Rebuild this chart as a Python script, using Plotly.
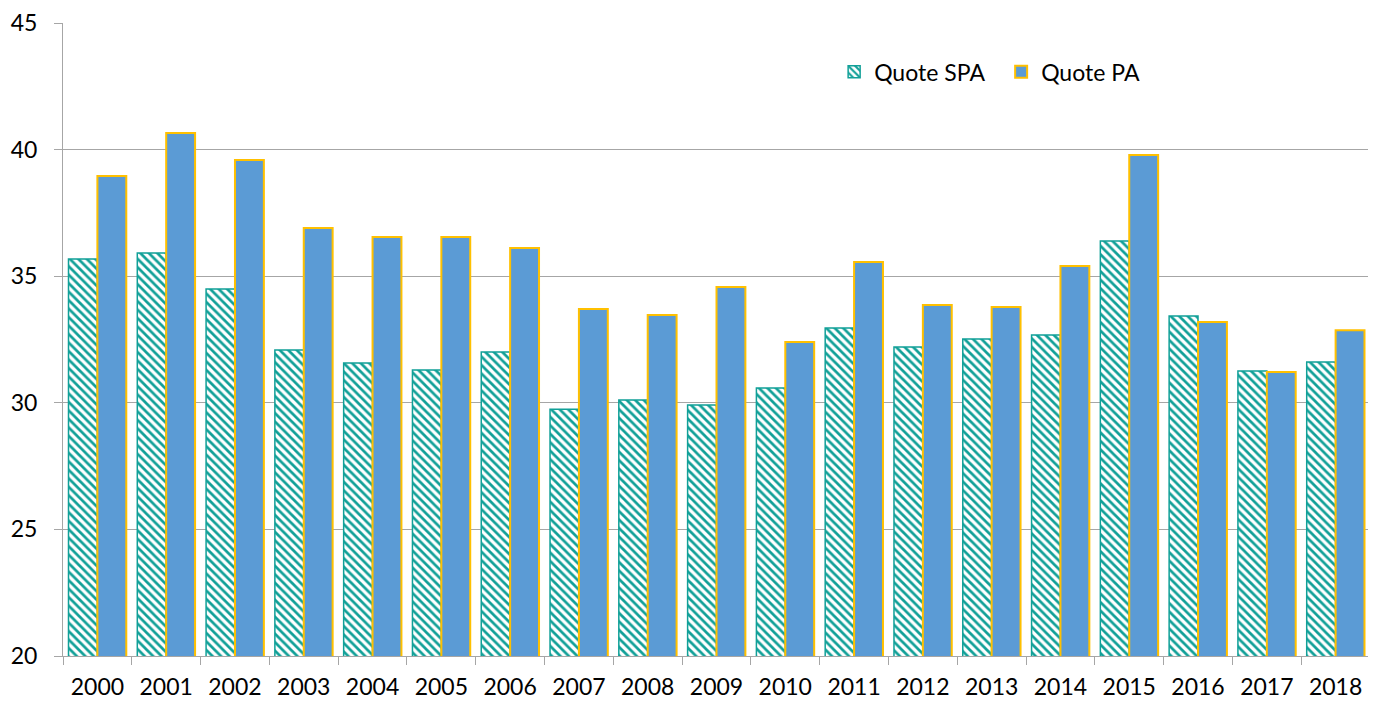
import plotly.graph_objects as go

years = [str(y) for y in range(2000, 2019)]
quote_spa = [35.68, 35.92, 34.49, 32.09, 31.57, 31.30, 32.01, 29.75, 30.11, 29.91,
             30.58, 32.95, 32.20, 32.52, 32.68, 36.39, 33.43, 31.26, 31.61]
quote_pa = [38.96, 40.66, 39.59, 36.90, 36.55, 36.55, 36.11, 33.70, 33.47, 34.57,
            32.40, 35.56, 33.86, 33.78, 35.40, 39.79, 33.19, 31.22, 32.87]

TEAL = "#11A098"
BLUE = "#5B9BD5"
GOLD = "#FFC000"
FONT = "Lato, Open Sans, sans-serif"

fig = go.Figure()
fig.add_trace(go.Bar(
    x=years, y=quote_spa, name="Quote SPA",
    marker=dict(color="white", line=dict(color=TEAL, width=1.5),
                pattern=dict(shape="\\", fgcolor=TEAL, bgcolor="white",
                             size=6, solidity=0.45, fillmode="replace")),
))
fig.add_trace(go.Bar(
    x=years, y=quote_pa, name="Quote PA",
    marker=dict(color=BLUE, line=dict(color=GOLD, width=2)),
))

fig.update_layout(
    width=1376, height=702,
    margin=dict(l=55, r=14, t=15, b=54),
    paper_bgcolor="white", plot_bgcolor="white",
    barmode="group", bargap=0.16, bargroupgap=0,
    font=dict(family=FONT, size=23, color="black"),
    legend=dict(orientation="h", x=0.59, y=0.923, xanchor="left", yanchor="middle",
                font=dict(size=23), itemwidth=30, bgcolor="rgba(0,0,0,0)",
                traceorder="normal", entrywidth=122, entrywidthmode="pixels"),
    showlegend=True,
)
fig.update_yaxes(range=[20, 45], dtick=5, showgrid=True, gridcolor="#A6A6A6",
                 gridwidth=1, showline=True, linecolor="#A6A6A6", linewidth=1,
                 ticks="outside", ticklen=8, tickcolor="#A6A6A6", zeroline=False,
                 tickfont=dict(size=23), automargin=False, ticklabelstandoff=12)
fig.update_xaxes(type="category", showline=True, linecolor="#A6A6A6", linewidth=1,
                 ticks="outside", tickson="boundaries", ticklen=8, tickcolor="#A6A6A6",
                 tickfont=dict(size=23), showgrid=False, automargin=False,
                 ticklabelstandoff=10)

fig.write_html("out.html")
